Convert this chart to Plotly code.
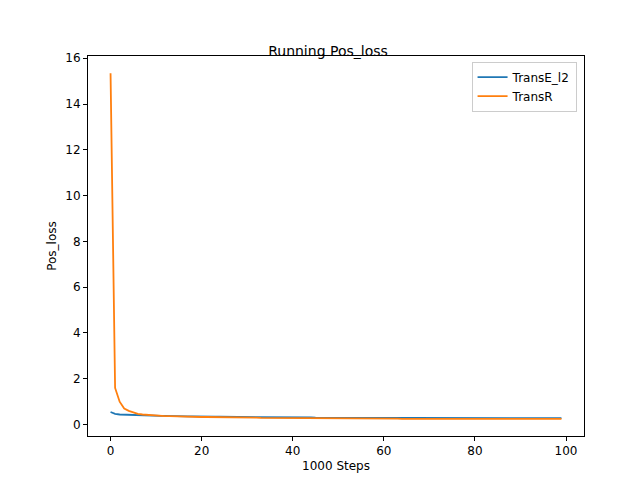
import plotly.graph_objects as go

steps = list(range(100))
transe_l2 = [0.55, 0.47, 0.44, 0.43, 0.42, 0.41, 0.41, 0.40, 0.40, 0.39,
             0.39, 0.38, 0.38, 0.37, 0.37, 0.37, 0.36, 0.36, 0.36, 0.35,
             0.35, 0.35, 0.35, 0.34, 0.34, 0.34, 0.34, 0.33, 0.33, 0.33,
             0.33, 0.33, 0.32, 0.32, 0.32, 0.32, 0.32, 0.32, 0.31, 0.31,
             0.31, 0.31, 0.31, 0.31, 0.31, 0.30, 0.30, 0.30, 0.30, 0.30,
             0.30, 0.30, 0.30, 0.30, 0.30, 0.29, 0.29, 0.29, 0.29, 0.29,
             0.29, 0.29, 0.29, 0.29, 0.29, 0.29, 0.29, 0.29, 0.29, 0.28,
             0.28, 0.28, 0.28, 0.28, 0.28, 0.28, 0.28, 0.28, 0.28, 0.28,
             0.28, 0.28, 0.28, 0.28, 0.28, 0.28, 0.28, 0.28, 0.28, 0.28,
             0.28, 0.28, 0.28, 0.28, 0.28, 0.28, 0.28, 0.28, 0.28, 0.28]
transr = [15.35, 1.60, 1.00, 0.70, 0.60, 0.52, 0.47, 0.44, 0.42, 0.40,
          0.39, 0.38, 0.37, 0.37, 0.36, 0.36, 0.35, 0.35, 0.34, 0.34,
          0.33, 0.33, 0.33, 0.32, 0.32, 0.32, 0.31, 0.31, 0.31, 0.30,
          0.30, 0.30, 0.30, 0.29, 0.29, 0.29, 0.29, 0.29, 0.28, 0.28,
          0.28, 0.28, 0.28, 0.28, 0.27, 0.27, 0.27, 0.27, 0.27, 0.27,
          0.27, 0.27, 0.26, 0.26, 0.26, 0.26, 0.26, 0.26, 0.26, 0.26,
          0.26, 0.26, 0.26, 0.26, 0.25, 0.25, 0.25, 0.25, 0.25, 0.25,
          0.25, 0.25, 0.25, 0.25, 0.25, 0.25, 0.25, 0.25, 0.25, 0.25,
          0.25, 0.25, 0.25, 0.25, 0.25, 0.25, 0.25, 0.25, 0.25, 0.25,
          0.25, 0.25, 0.25, 0.25, 0.25, 0.25, 0.25, 0.25, 0.25, 0.25]

fig = go.Figure()
fig.add_trace(go.Scatter(x=steps, y=transe_l2, mode="lines", name="TransE_l2",
                         line=dict(color="#1f77b4", width=1.8)))
fig.add_trace(go.Scatter(x=steps, y=transr, mode="lines", name="TransR",
                         line=dict(color="#ff7f0e", width=1.8)))

axis = dict(showgrid=False, zeroline=False, showline=True, linecolor="black",
            mirror=True, ticks="outside", ticklen=4, tickcolor="black",
            automargin=False, tickfont=dict(size=12, color="black"))
fig.update_layout(
    width=640, height=480, plot_bgcolor="white", paper_bgcolor="white",
    font=dict(family="DejaVu Sans", size=12, color="black"),
    margin=dict(l=80, r=64, t=48, b=52, autoexpand=False),
    title=dict(text="Running Pos_loss", x=0.5, xanchor="center", y=0.91,
               yanchor="middle", font=dict(size=14)),
    xaxis=dict(axis, range=[-4.95, 103.95], tickvals=[0, 20, 40, 60, 80, 100],
               title=dict(text="1000 Steps", standoff=4, font=dict(size=12))),
    yaxis=dict(axis, range=[-0.5, 16.1], tickvals=list(range(0, 17, 2)),
               title=dict(text="Pos_loss", standoff=6, font=dict(size=12))),
    legend=dict(x=0.985, y=0.985, xanchor="right", yanchor="top",
                bordercolor="#cccccc", borderwidth=1, bgcolor="white",
                font=dict(size=12)),
)
fig.write_html("out.html")
